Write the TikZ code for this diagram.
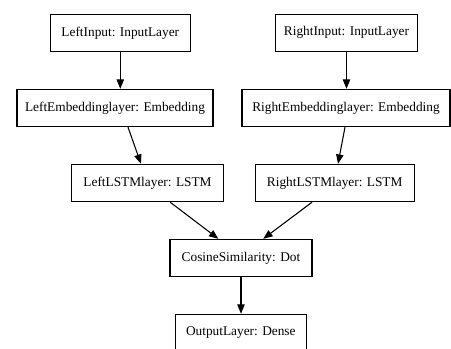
\documentclass[tikz,border=0pt]{standalone}
\usepackage{fontspec}
\setmainfont{Liberation Serif}
\usetikzlibrary{arrows.meta,positioning}

\begin{document}
\begin{tikzpicture}[x=0.75pt,y=-0.75pt,
    layer/.style={rectangle,draw,line width=0.8pt,minimum height=28pt,inner sep=2pt,font=\fontsize{10}{12}\selectfont},
    arrow/.style={-{Triangle[length=7pt,width=5.5pt]},line width=0.8pt}]
    \clip (0,0) rectangle (451,349);
    % inputs
    \node[layer,minimum width=105pt] (linput) at (120.3,32.8) {LeftInput: InputLayer};
    \node[layer,minimum width=107pt] (rinput) at (346.5,32.8) {RightInput: InputLayer};
    % embeddings
    \node[layer,minimum width=147pt] (lemb) at (115,108) {LeftEmbeddinglayer: Embedding};
    \node[layer,minimum width=156pt] (remb) at (346,108) {RightEmbeddinglayer: Embedding};
    % lstm
    \node[layer,minimum width=113.5pt] (llstm) at (147.5,183) {LeftLSTMlayer: LSTM};
    \node[layer,minimum width=119.5pt] (rlstm) at (334.7,183) {RightLSTMlayer: LSTM};
    % merge and output
    \node[layer,minimum width=106.5pt] (cos) at (241,258) {CosineSimilarity: Dot};
    \node[layer,minimum width=98pt] (out) at (240.8,333) {OutputLayer: Dense};

    \draw[arrow] (linput.south) -- (linput.south |- lemb.north);
    \draw[arrow] (rinput.south) -- (rinput.south |- remb.north);
    \draw[arrow] ([xshift=9.75pt]lemb.south) -- ([xshift=-4.9pt]llstm.north);
    \draw[arrow] ([xshift=-0.75pt]remb.south) -- ([xshift=2.5pt]rlstm.north);
    \draw[arrow] ([xshift=17pt]llstm.south) -- ([xshift=-17pt]cos.north);
    \draw[arrow] ([xshift=-17pt]rlstm.south) -- ([xshift=16.7pt]cos.north);
    \draw[arrow] (cos.south) -- (cos.south |- out.north);
\end{tikzpicture}
\end{document}
